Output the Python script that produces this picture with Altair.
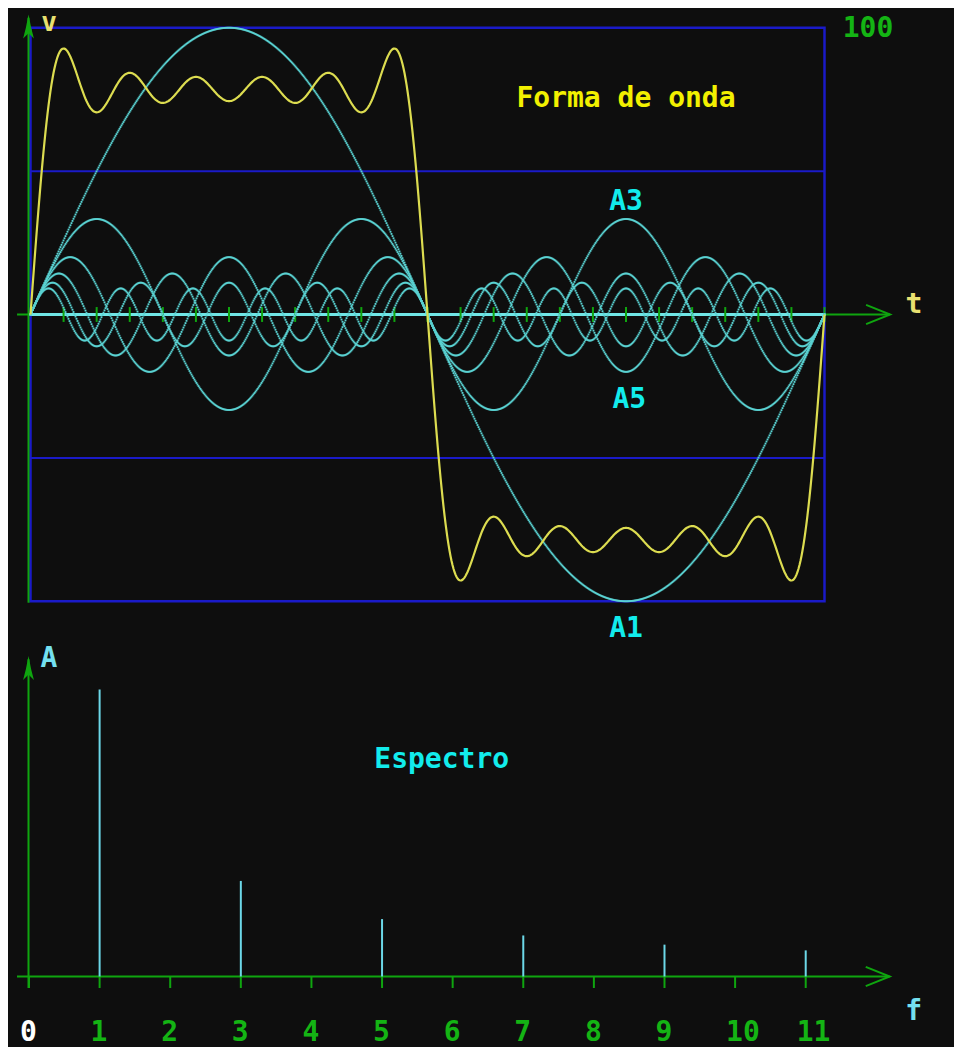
import altair as alt
import pandas as pd

# ---------------- data ----------------
harmonics = [1, 3, 5, 7, 9, 11]                 # harmonic orders
amplitudes = [100, 33.3, 20, 14.3, 11.1, 9.1]   # spectrum amplitudes (A1 = 100)
freq_ticks = list(range(12))                    # f axis ticks
freq_labels = [str(i) for i in freq_ticks]      # f axis tick labels
time_ticks = [15 * i for i in range(1, 25)]     # t axis ticks (degrees of one period)
guide_levels = [-50, 50]                        # blue horizontal guide lines
harmonic_names = ["A1", "A3", "A5"]
harmonic_label_v = [-112.6, 36.4, -32.7]

# ---------------- layout (pixel anchors in the page) ----------------
W, H = 946, 1039
OX, OY = 8, 8
KX_T = 794 / 360.0       # px per degree
X0_T = 30.5              # page x of 0 deg
Y0_T, KY_T = 314.5, 2.8675
X0_F, KX_F = 29.0, 70.61
Y0_A, KY_A = 976.5, 2.87

XT = [(OX - X0_T) / KX_T, (OX + W - X0_T) / KX_T]
YT = [(Y0_T - (OY + H)) / KY_T, (Y0_T - OY) / KY_T]
XF = [(OX - X0_F) / KX_F, (OX + W - X0_F) / KX_F]
YA = [(Y0_A - (OY + H)) / KY_A, (Y0_A - OY) / KY_A]

BG = "#0e0e0e"
BLUE = "#1a1ac8"
GREEN = "#0fa50f"
GREEN_TXT = "#14b414"
CYAN_CURVE = "#5ad2d2"
CYAN_ZERO = "#70e6e6"
CYAN_TXT = "#12ecec"
CYAN_LIGHT = "#74e0f0"
BAR = "#6cd8e8"
YEL_CURVE = "#dcdc50"
YEL_TXT = "#f2f000"
YEL_LIGHT = "#e8e070"
FONT = "DejaVu Sans Mono"


def sc(dom):
    return alt.Scale(domain=dom, nice=False, zero=False)


def xt(f):
    return alt.X(f, type="quantitative", scale=sc(XT), axis=None)


def yt(f):
    return alt.Y(f, type="quantitative", scale=sc(YT), axis=None)


def xf(f):
    return alt.X(f, type="quantitative", scale=sc(XF), axis=None)


def ya(f):
    return alt.Y(f, type="quantitative", scale=sc(YA), axis=None)


harm_df = pd.DataFrame({"n": harmonics, "amp": amplitudes})

layers = []

# ---------- top panel: blue frame and guides ----------
frame = pd.DataFrame({"x": [0], "x2": [360], "y": [-100], "y2": [100]})
layers.append(alt.Chart(frame).mark_rect(fillOpacity=0, stroke=BLUE, strokeWidth=2.5).encode(
    x=xt("x"), x2="x2", y=yt("y"), y2="y2"))
guides = pd.DataFrame({"x": [0] * 2, "x2": [360] * 2, "y": guide_levels})
layers.append(alt.Chart(guides).mark_rule(color=BLUE, strokeWidth=2).encode(
    x=xt("x"), x2="x2", y=yt("y")))

# ---------- top panel axes ----------
t_axis = pd.DataFrame({"x": [-6.1], "x2": [389.7], "y": [0]})
layers.append(alt.Chart(t_axis).mark_rule(color=GREEN, strokeWidth=2).encode(
    x=xt("x"), x2="x2", y=yt("y")))
v_axis = pd.DataFrame({"x": [-0.9], "y": [-100.5], "y2": [103.5]})
layers.append(alt.Chart(v_axis).mark_rule(color=GREEN, strokeWidth=2).encode(
    x=xt("x"), y=yt("y"), y2="y2"))
zero_line = pd.DataFrame({"x": [0], "x2": [360], "y": [0]})
layers.append(alt.Chart(zero_line).mark_rule(color=CYAN_ZERO, strokeWidth=3).encode(
    x=xt("x"), x2="x2", y=yt("y")))
tt = pd.DataFrame({"x": time_ticks, "y": [-2.6] * len(time_ticks), "y2": [2.6] * len(time_ticks)})
layers.append(alt.Chart(tt).mark_rule(color=GREEN, strokeWidth=2).encode(
    x=xt("x"), y=yt("y"), y2="y2"))

ARROW_H = "M-1,-0.8L1,0L-1,0.8"
ARROW_V = "M0,-1L0.22,0.1L0.45,1L0,0.55L-0.45,1L-0.22,0.1Z"
layers.append(alt.Chart(pd.DataFrame({"x": [384.3], "y": [0]})).mark_point(
    shape=ARROW_H, size=576, filled=False, color=GREEN, strokeWidth=2, opacity=1).encode(
    x=xt("x"), y=yt("y")))
layers.append(alt.Chart(pd.DataFrame({"x": [-0.9], "y": [100.4]})).mark_point(
    shape=ARROW_V, size=576, filled=True, color=GREEN, opacity=1).encode(
    x=xt("x"), y=yt("y")))

# ---------- harmonic curves (plotted point by point) and their sum ----------
curves = alt.Chart(harm_df).transform_calculate(
    deg="sequence(0, 360.2, 360/794)"
).transform_flatten(["deg"]).transform_calculate(
    v="datum.amp * sin(datum.n * datum.deg * PI / 180)"
)
layers.append(curves.mark_square(size=3.5, color=CYAN_CURVE, opacity=1).encode(
    x=xt("deg"), y=yt("v")))
layers.append(curves.transform_aggregate(v="sum(v)", groupby=["deg"]).mark_line(
    color=YEL_CURVE, strokeWidth=2.2).encode(x=xt("deg"), y=yt("v")))

# ---------- top panel texts ----------
def txt(df, xenc, yenc, color, align="center", size=28):
    return alt.Chart(df).mark_text(font=FONT, fontWeight="bold", fontSize=size, color=color,
                                   align=align, baseline="alphabetic").encode(
        x=xenc, y=yenc, text="label:N")

layers.append(txt(pd.DataFrame({"label": ["Forma de onda"], "x": [270], "y": [72.5]}),
                  xt("x"), yt("y"), YEL_TXT))
layers.append(txt(pd.DataFrame({"label": harmonic_names, "x": [270, 270, 271.5],
                                "y": harmonic_label_v}), xt("x"), yt("y"), CYAN_TXT))
layers.append(txt(pd.DataFrame({"label": ["100"], "x": [379.7], "y": [96.9]}),
                  xt("x"), yt("y"), GREEN_TXT))
layers.append(txt(pd.DataFrame({"label": ["v"], "x": [8.4], "y": [98.7]}),
                  xt("x"), yt("y"), YEL_LIGHT, size=26))
layers.append(txt(pd.DataFrame({"label": ["t"], "x": [400.6], "y": [0.4]}),
                  xt("x"), yt("y"), YEL_LIGHT))

# ---------- spectrum ----------
f_axis = pd.DataFrame({"x": [-0.17], "x2": [12.19], "y": [0]})
layers.append(alt.Chart(f_axis).mark_rule(color=GREEN, strokeWidth=2).encode(
    x=xf("x"), x2="x2", y=ya("y")))
a_axis = pd.DataFrame({"x": [-0.007], "y": [-4.0], "y2": [110.5]})
layers.append(alt.Chart(a_axis).mark_rule(color=GREEN, strokeWidth=2).encode(
    x=xf("x"), y=ya("y"), y2="y2"))
ft = pd.DataFrame({"x": freq_ticks, "y": [-4.0] * len(freq_ticks), "y2": [0] * len(freq_ticks)})
layers.append(alt.Chart(ft).mark_rule(color=GREEN, strokeWidth=2).encode(
    x=xf("x"), y=ya("y"), y2="y2"))
layers.append(alt.Chart(pd.DataFrame({"x": [12.02], "y": [0]})).mark_point(
    shape=ARROW_H, size=576, filled=False, color=GREEN, strokeWidth=2, opacity=1).encode(
    x=xf("x"), y=ya("y")))
layers.append(alt.Chart(pd.DataFrame({"x": [-0.007], "y": [107.5]})).mark_point(
    shape=ARROW_V, size=576, filled=True, color=GREEN, opacity=1).encode(
    x=xf("x"), y=ya("y")))

spec = pd.DataFrame({"f": harmonics, "amp": amplitudes, "base": [0] * len(harmonics)})
layers.append(alt.Chart(spec).mark_rule(color=BAR, strokeWidth=2).encode(
    x=xf("f"), y=ya("base"), y2="amp"))

layers.append(txt(pd.DataFrame({"label": ["Espectro"], "x": [5.845], "y": [72.8]}),
                  xf("x"), ya("y"), CYAN_TXT))
layers.append(txt(pd.DataFrame({"label": ["A"], "x": [0.283], "y": [107.9]}),
                  xf("x"), ya("y"), CYAN_LIGHT))
layers.append(txt(pd.DataFrame({"label": ["f"], "x": [12.53], "y": [-15.2]}),
                  xf("x"), ya("y"), CYAN_LIGHT))

lab = pd.DataFrame({"label": freq_labels, "x": freq_ticks, "y": [-22.5] * len(freq_ticks)})
layers.append(alt.Chart(lab).mark_text(font=FONT, fontWeight="bold", fontSize=28, align="left",
                                       baseline="alphabetic", dx=-9).encode(
    x=xf("x"), y=ya("y"), text="label:N",
    color=alt.condition("datum.x == 0", alt.value("#ffffff"), alt.value(GREEN_TXT))))

chart = alt.layer(*layers).resolve_scale(x="independent", y="independent").properties(
    width=W, height=H, background=BG, padding=0,
    autosize=alt.AutoSizeParams(type="none"),
).configure_view(stroke=None)

chart.save("out.html", embed_options={"renderer": "svg", "actions": False})
